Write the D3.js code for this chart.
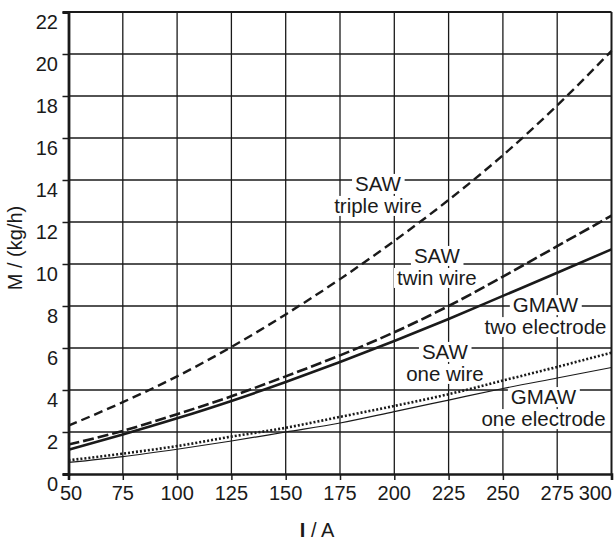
<!DOCTYPE html>
<html>
<head>
<meta charset="utf-8">
<script src="https://cdn.jsdelivr.net/npm/d3@7/dist/d3.min.js"></script>
<style>
  html, body { margin: 0; padding: 0; background: #fff; }
  svg { display: block; }
  text { font-family: "Liberation Sans", Arial, Helvetica, sans-serif; fill: #1a1a1a; }
</style>
</head>
<body>
<svg id="chart" width="614" height="541"></svg>
<script>
// ---- data ----
const current = [50, 75, 100, 125, 150, 175, 200, 225, 250, 275, 300];
const sawTriple   = [2.3, 3.42, 4.65, 6.05, 7.6, 9.28, 11.1, 13.05, 15.18, 17.55, 20.15];
const sawTwin     = [1.4, 2.05, 2.85, 3.7, 4.65, 5.65, 6.75, 8.0, 9.4, 10.85, 12.3];
const gmawTwo     = [1.15, 1.88, 2.65, 3.48, 4.38, 5.33, 6.33, 7.38, 8.48, 9.58, 10.7];
const sawOne      = [0.65, 0.97, 1.33, 1.78, 2.2, 2.72, 3.24, 3.8, 4.45, 5.1, 5.78];
const gmawOne     = [0.55, 0.83, 1.18, 1.57, 2.0, 2.43, 2.97, 3.52, 4.07, 4.57, 5.07];
const xTicks = [50, 75, 100, 125, 150, 175, 200, 225, 250, 275, 300];
const yTicks = [0, 2, 4, 6, 8, 10, 12, 14, 16, 18, 20, 22];
const labelLines = [
  { lines: ["SAW", "triple wire"], at: [192.5, 13.48] },
  { lines: ["SAW", "twin wire"], at: [219.6, 10.05] },
  { lines: ["GMAW", "two electrode"], at: [269.6, 7.71] },
  { lines: ["SAW", "one wire"], at: [223.3, 5.48] },
  { lines: ["GMAW", "one electrode"], at: [268.7, 3.33] }
];

(function () {
// ---- layout ----
const svg = d3.select("#chart");
const pLeft = 68.5, pRight = 611.5, pTop = 12, pBottom = 474;
const x = d3.scaleLinear().domain([50, 300]).range([pLeft, pRight]);
const y = d3.scaleLinear().domain([0, 22]).range([pBottom, pTop]);
const ink = "#1a1a1a";

// grid
const grid = svg.append("g");
grid.selectAll("line.v").data(xTicks.slice(1, -1)).join("line")
  .attr("x1", d => x(d)).attr("x2", d => x(d))
  .attr("y1", pTop).attr("y2", pBottom)
  .attr("stroke", ink).attr("stroke-width", 1.3);
grid.selectAll("line.h").data(yTicks.slice(1, -1)).join("line")
  .attr("x1", pLeft).attr("x2", pRight)
  .attr("y1", d => y(d)).attr("y2", d => y(d))
  .attr("stroke", ink).attr("stroke-width", 1.3);

// frame top & right
svg.append("line").attr("x1", pLeft).attr("x2", pRight).attr("y1", pTop).attr("y2", pTop)
  .attr("stroke", ink).attr("stroke-width", 2);
svg.append("line").attr("x1", pRight).attr("x2", pRight).attr("y1", pTop).attr("y2", pBottom)
  .attr("stroke", ink).attr("stroke-width", 2);

// axes
const xAxis = d3.axisBottom(x).tickValues(xTicks).tickSize(6).tickFormat("");
const gx = svg.append("g").attr("transform", `translate(0,${pBottom})`).call(xAxis);
gx.select(".domain").attr("stroke", ink).attr("stroke-width", 2.6);
gx.selectAll(".tick line").attr("stroke", ink).attr("stroke-width", 1.5);

const yAxis = d3.axisLeft(y).tickValues(yTicks).tickSize(6).tickFormat("");
const gy = svg.append("g").attr("transform", `translate(${pLeft},0)`).call(yAxis);
gy.select(".domain").attr("stroke", ink).attr("stroke-width", 2.8);
gy.selectAll(".tick line").attr("stroke", ink).attr("stroke-width", 1.5);

// tick labels
svg.append("g").selectAll("text").data(yTicks).join("text")
  .attr("x", 58).attr("y", d => y(d) + 16.5)
  .attr("text-anchor", "end").attr("font-size", 20).text(d => d);
svg.append("g").selectAll("text").data(xTicks).join("text")
  .attr("x", (d, i) => i === xTicks.length - 1 ? x(d) + 0.5 : x(d) + (i === 0 ? 2.5 : 0))
  .attr("y", 499.5)
  .attr("text-anchor", (d, i) => i === xTicks.length - 1 ? "end" : "middle")
  .attr("font-size", 20).text(d => d);

// axis titles
const xt = svg.append("text").attr("x", 317).attr("y", 536.5)
  .attr("text-anchor", "middle").attr("font-size", 20);
xt.append("tspan").attr("font-weight", "bold").text("I");
xt.append("tspan").text(" / A");
svg.append("text").attr("transform", "translate(22,248) rotate(-90)")
  .attr("text-anchor", "middle").attr("font-size", 20).text("M / (kg/h)");

// labels with white backgrounds
const lab = svg.append("g");
labelLines.forEach(L => {
  const cx = x(L.at[0]), cy = y(L.at[1]);
  L.lines.forEach((t, i) => {
    const txt = lab.append("text").attr("x", cx).attr("y", cy + i * 22)
      .attr("text-anchor", "middle").attr("font-size", 20.5).text(t);
    const bb = txt.node().getBBox();
    lab.insert("rect", "text").attr("x", bb.x - 3).attr("y", bb.y + 2)
      .attr("width", bb.width + 6).attr("height", bb.height - 3).attr("fill", "#fff");
  });
});

// curves
const series = [
  { v: sawTriple, w: 2.4, dash: "9,5" },
  { v: sawTwin,   w: 2.6, dash: "11,4" },
  { v: gmawTwo,   w: 2.6, dash: null },
  { v: sawOne,    w: 2.6, dash: "2,2" },
  { v: gmawOne,   w: 1.2, dash: null }
];
const line = d3.line().x((d, i) => x(current[i])).y(d => y(d)).curve(d3.curveMonotoneX);
svg.append("g").selectAll("path").data(series).join("path")
  .attr("d", d => line(d.v))
  .attr("fill", "none").attr("stroke", ink)
  .attr("stroke-width", d => d.w)
  .attr("stroke-dasharray", d => d.dash);
})();
</script>
</body>
</html>
